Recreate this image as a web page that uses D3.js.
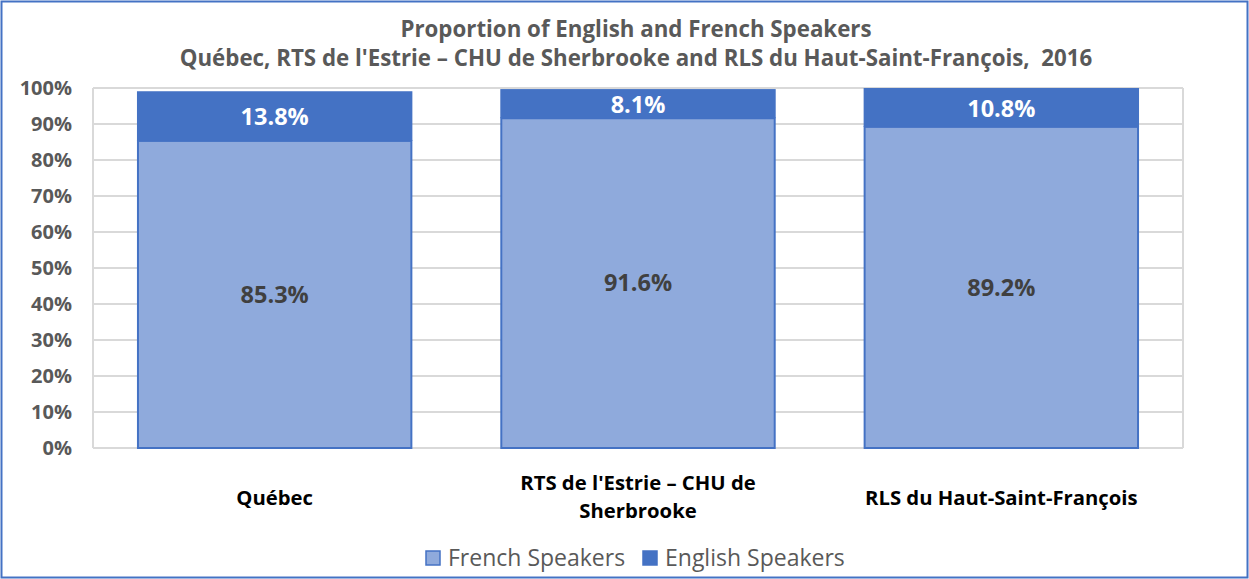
<!DOCTYPE html>
<html>
<head>
<meta charset="utf-8">
<script src="https://cdn.jsdelivr.net/npm/d3@7"></script>
<style>
body { margin: 0; background: #fff; }
svg { font-family: "Open Sans", sans-serif; }
text { white-space: pre; }
</style>
</head>
<body>
<div id="container"></div>
<script>
var categories = [["Québec"], ["RTS de l'Estrie – CHU de", "Sherbrooke"], ["RLS du Haut-Saint-François"]];
var french = [85.3, 91.6, 89.2];
var english = [13.8, 8.1, 10.8];
var seriesNames = ["French Speakers", "English Speakers"];
var yTicks = [0, 10, 20, 30, 40, 50, 60, 70, 80, 90, 100];
var titleLines = ["Proportion of English and French Speakers",
	"Québec, RTS de l'Estrie – CHU de Sherbrooke and RLS du Haut-Saint-François,  2016"];

var W = 1249, H = 579;
var pLeft = 93, pRight = 1183, pTop = 88, pBottom = 448;

var svg = d3.select("#container").append("svg")
	.attr("width", W).attr("height", H);

// outer frame
svg.append("rect").attr("x", 1.5).attr("y", 1.5).attr("width", W - 3).attr("height", H - 3)
	.attr("fill", "#fff").attr("stroke", "#4472c4").attr("stroke-width", 2);

var x = d3.scaleBand().domain(d3.range(categories.length)).range([pLeft, pRight]).paddingInner(0.242).paddingOuter(0.121);
var y = d3.scaleLinear().domain([0, 100]).range([pBottom, pTop]);

// gridlines
svg.append("g").selectAll("line").data(yTicks).enter().append("line")
	.attr("x1", pLeft).attr("x2", pRight)
	.attr("y1", function(d) { return y(d); }).attr("y2", function(d) { return y(d); })
	.attr("stroke", "#d9d9d9").attr("stroke-width", 2);
svg.append("line").attr("x1", pLeft).attr("x2", pLeft).attr("y1", pTop).attr("y2", pBottom)
	.attr("stroke", "#d9d9d9").attr("stroke-width", 2);
svg.append("line").attr("x1", pRight).attr("x2", pRight).attr("y1", pTop).attr("y2", pBottom)
	.attr("stroke", "#d9d9d9").attr("stroke-width", 2);

// y labels
svg.append("g").selectAll("text").data(yTicks).enter().append("text")
	.attr("x", 72).attr("y", function(d) { return y(d); }).attr("dy", "0.35em")
	.attr("text-anchor", "end").attr("fill", "#595959").attr("font-size", 20).attr("font-weight", "bold")
	.text(function(d) { return d + "%"; });

var data = categories.map(function(c, i) { return { i: i, f: french[i], e: english[i] }; });

var bw = x.bandwidth();
// french bars
svg.append("g").selectAll("rect").data(data).enter().append("rect")
	.attr("x", function(d) { return x(d.i) + 1; })
	.attr("y", function(d) { return y(d.f); })
	.attr("width", bw - 2)
	.attr("height", function(d) { return y(0) - y(d.f); })
	.attr("fill", "#8faadc").attr("stroke", "#4472c4").attr("stroke-width", 2);
// english bars
svg.append("g").selectAll("rect").data(data).enter().append("rect")
	.attr("x", function(d) { return x(d.i); })
	.attr("y", function(d) { return y(d.f + d.e); })
	.attr("width", bw)
	.attr("height", function(d) { return y(d.f) - y(d.f + d.e); })
	.attr("fill", "#4472c4");

// value labels
svg.append("g").selectAll("text").data(data).enter().append("text")
	.attr("x", function(d) { return x(d.i) + bw / 2; })
	.attr("y", function(d) { return y(d.f / 2); }).attr("dy", "0.35em")
	.attr("text-anchor", "middle").attr("fill", "#404040").attr("font-size", 23.5).attr("font-weight", "bold")
	.text(function(d) { return d.f.toFixed(1) + "%"; });
svg.append("g").selectAll("text").data(data).enter().append("text")
	.attr("x", function(d) { return x(d.i) + bw / 2; })
	.attr("y", function(d) { return y(d.f + d.e / 2) + 1; }).attr("dy", "0.35em")
	.attr("text-anchor", "middle").attr("fill", "#fff").attr("font-size", 23.5).attr("font-weight", "bold")
	.text(function(d) { return d.e.toFixed(1) + "%"; });

// x labels
var xl = svg.append("g").selectAll("text").data(categories).enter().append("text")
	.attr("text-anchor", "middle").attr("fill", "#000").attr("font-size", 20.3).attr("font-weight", "bold")
	.attr("x", function(d, i) { return x(i) + bw / 2; })
	.attr("y", function(d) { return d.length > 1 ? 490 : 505; });
xl.selectAll("tspan").data(function(d) { return d; }).enter().append("tspan")
	.attr("x", function() { return d3.select(this.parentNode).attr("x"); })
	.attr("dy", function(d, j) { return j ? 28 : 0; })
	.text(function(d) { return d; });

// title
svg.append("g").selectAll("text").data(titleLines).enter().append("text")
	.attr("x", 636).attr("y", function(d, i) { return 37 + i * 29; })
	.attr("text-anchor", "middle").attr("fill", "#595959").attr("font-size", 22.3).attr("font-weight", "bold")
	.text(function(d) { return d; });

// legend
var legX = [426, 643];
var leg = svg.append("g").selectAll("g").data(seriesNames).enter().append("g")
	.attr("transform", function(d, i) { return "translate(" + legX[i] + ",551)"; });
leg.append("rect").attr("width", 14).attr("height", 14)
	.attr("fill", function(d, i) { return i ? "#4472c4" : "#8faadc"; })
	.attr("stroke", "#4472c4").attr("stroke-width", 1.5);
leg.append("text").attr("x", 22).attr("y", 7).attr("dy", "0.35em")
	.attr("fill", "#595959").attr("font-size", 23)
	.text(function(d) { return d; });
</script>
</body>
</html>
